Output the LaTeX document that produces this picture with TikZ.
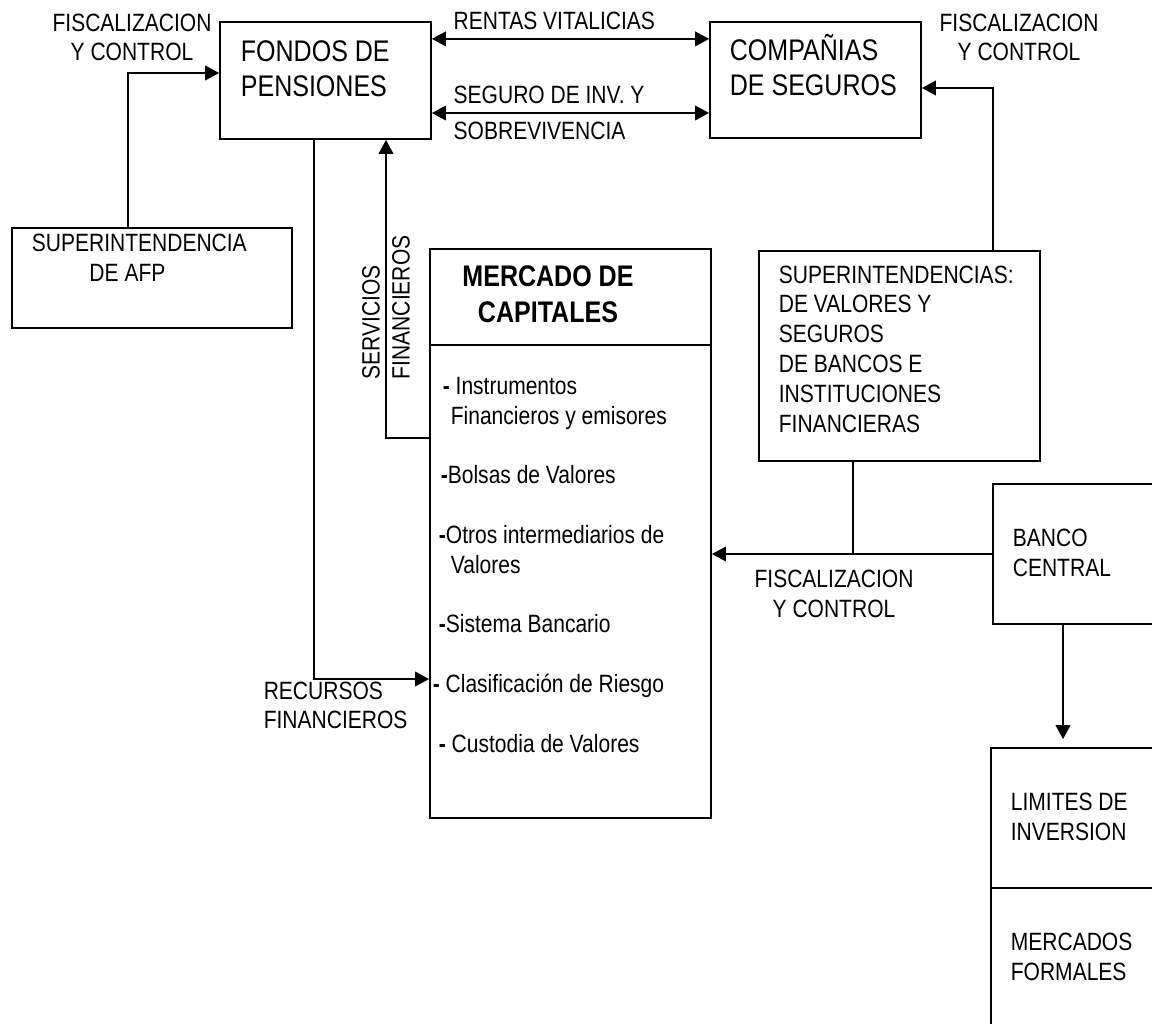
\documentclass[tikz,border=0pt]{standalone}
\usepackage{fontspec}
\setmainfont{Liberation Sans}
\newfontfamily\narrowfont[FakeStretch=0.84]{Liberation Sans}
\usetikzlibrary{arrows.meta}

\begin{document}
\begin{tikzpicture}[>={Triangle[length=10pt,width=10.5pt]}, line width=1.1pt,
	box/.style={draw,rectangle,line width=1.3pt,inner sep=0pt},
	lbl/.style={font=\narrowfont\fontsize{17.8}{21.2}\selectfont,align=center,inner sep=0pt},
	txt/.style={lbl,align=left,anchor=south west},
	big/.style={txt,font=\narrowfont\fontsize{21.2}{25}\selectfont}]

	\useasboundingbox (0,0) rectangle (28.8,-25.6);

	% cajas
	\node[box,minimum width=5.275cm,minimum height=2.925cm] (fondos) at (8.1375,-2.0125) {};
	\node[box,minimum width=5.275cm,minimum height=2.9cm] (companias) at (20.3875,-2) {};
	\node[box,minimum width=7cm,minimum height=2.5cm] (afp) at (3.8,-6.95) {};
	\node[box,minimum width=7.025cm,minimum height=14.225cm] (mercado) at (14.2625,-13.3375) {};
	\node[box,minimum width=7.025cm,minimum height=5.25cm] (supers) at (22.4875,-8.9) {};
	\node[box,minimum width=4.3cm,minimum height=3.5cm] (banco) at (26.975,-13.85) {};
	\node[box,minimum width=4.35cm,minimum height=3.5cm] (limites) at (26.95,-20.45) {};
	\node[box,minimum width=4.35cm,minimum height=3.675cm] (formales) at (26.95,-24.0375) {};

	% textos de las cajas
	\node[big] (fondostxt) at ([shift={(0.525,-1.92)}]fondos.north west) {FONDOS DE\\PENSIONES};
	\node[big] (companiastxt) at ([shift={(0.5,-1.89)}]companias.north west) {COMPAÑIAS\\DE SEGUROS};
	\node[txt] (afptxt) at ([shift={(0.5,-1.375)}]afp.north west) {SUPERINTENDENCIA\\\hspace*{41pt}DE AFP};
	\node[txt] (superstxt) at ([shift={(0.5,-4.575)}]supers.north west) {SUPERINTENDENCIAS:\\DE VALORES Y\\SEGUROS\\DE BANCOS E\\INSTITUCIONES\\FINANCIERAS};
	\node[txt] (bancotxt) at ([shift={(0.5,-2.35)}]banco.north west) {BANCO\\CENTRAL};
	\node[txt] (limitestxt) at ([shift={(0.5,-2.35)}]limites.north west) {LIMITES DE\\INVERSION};
	\node[txt] (formalestxt) at ([shift={(0.5,-2.35)}]formales.north west) {MERCADOS\\FORMALES};

	% mercado de capitales
	\node[lbl,font=\narrowfont\bfseries\fontsize{21.2}{25.6}\selectfont,anchor=south] (mercadotit) at ([shift={(-0.5625,-1.875)}]mercado.north) {MERCADO DE\\CAPITALES};
	\draw[box] ([yshift=-2.425cm]mercado.north west) -- ([yshift=-2.425cm]mercado.north east);
	\node[txt] (mercadolista) at ([shift={(0.075,-12.625)}]mercado.north west) {\hspace*{7.1pt}\textbf{-} Instrumentos\\\hspace*{12.8pt}Financieros y emisores\\[21.2pt]\hspace*{5.7pt}\textbf{-}Bolsas de Valores\\[21.2pt]\hspace*{4.3pt}\textbf{-}Otros intermediarios de\\\hspace*{12.8pt}Valores\\[21.2pt]\hspace*{4.3pt}\textbf{-}Sistema Bancario\\[21.2pt]\textbf{-} Clasificación de Riesgo\\[21.2pt]\hspace*{4.3pt}\textbf{-} Custodia de Valores};

	% flechas entre fondos y companias
	\draw [<->] ([yshift=1.04cm]fondos.east) node[lbl,anchor=south west,xshift=0.525cm,yshift=0.2cm]{RENTAS VITALICIAS} -- ([yshift=1.04cm]fondos.east -| companias.west);
	\draw [<->] ([yshift=-0.8125cm]fondos.east) node[lbl,align=left,anchor=west,xshift=0.525cm]{SEGURO DE INV. Y\\[3.9pt]SOBREVIVENCIA} -- ([yshift=-0.8125cm]fondos.east -| companias.west);

	% fiscalizacion y control
	\draw [->] ([xshift=-0.6cm]afp.north) |- node[lbl,anchor=south,xshift=0.1cm,yshift=0.275cm]{FISCALIZACION\\Y CONTROL} ([yshift=0.1875cm]fondos.west);
	\draw [->] ([xshift=2.3375cm]supers.north) |- node[lbl,anchor=south,xshift=0.65cm,yshift=0.65cm]{FISCALIZACION\\Y CONTROL} ([yshift=-0.2cm]companias.east);
	\draw [->] (banco.west) -- (banco.west -| mercado.east);
	\draw ([xshift=-1.1625cm]supers.south) -- ([xshift=-1.1625cm]supers.south |- banco.west) node[lbl,anchor=north,xshift=-0.475cm,yshift=-0.375cm]{FISCALIZACION\\Y CONTROL};

	% recursos y servicios
	\draw [->] ([xshift=-0.2875cm]fondos.south) |- node[lbl,align=left,anchor=south west,xshift=-1.275cm,yshift=-1.275cm]{RECURSOS\\FINANCIEROS} ([yshift=-3.6375cm]mercado.west);
	\draw [->] ([yshift=2.3875cm]mercado.west) -| node[lbl,align=left,anchor=west,yshift=1.45cm,rotate=90]{SERVICIOS\\FINANCIEROS} ([xshift=1.5125cm]fondos.south);

	% banco central
	\draw [->,shorten >=0.2cm] ([xshift=-0.4cm]banco.south) -- ([xshift=-0.4cm]banco.south |- limites.north);

\end{tikzpicture}
\end{document}
